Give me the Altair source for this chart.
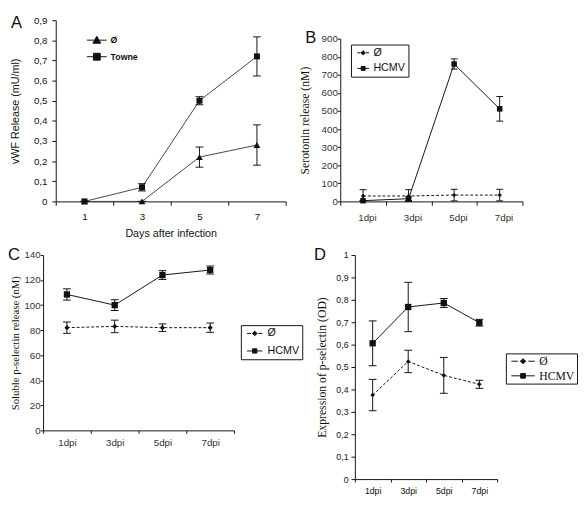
import altair as alt
import pandas as pd

# ---------------- data ----------------
A_DAYS = ["1", "3", "5", "7"]
A_NAMES = ["Ø", "Towne"]
A_MOCK = [0.0, 0.0, 0.22, 0.28]
A_MOCK_ERR = [0.0, 0.0, 0.05, 0.10]
A_TOWNE = [0.0, 0.07, 0.50, 0.72]
A_TOWNE_ERR = [0.0, 0.018, 0.02, 0.097]

DPI = ["1dpi", "3dpi", "5dpi", "7dpi"]
NAMES = ["Ø", "HCMV"]

B_MOCK = [30, 30, 35, 35]
B_MOCK_ERR = [35, 35, 32, 32]
B_HCMV = [4, 15, 760, 512]
B_HCMV_ERR = [0, 10, 28, 68]

C_MOCK = [82, 83, 82, 82]
C_MOCK_ERR = [4.5, 5, 3, 3.7]
C_HCMV = [108.5, 100, 124, 128]
C_HCMV_ERR = [4.5, 4.3, 3.5, 3.2]

D_MOCK = [0.375, 0.525, 0.463, 0.423]
D_MOCK_ERR = [0.07, 0.05, 0.08, 0.018]
D_HCMV = [0.606, 0.768, 0.786, 0.698]
D_HCMV_ERR = [0.10, 0.11, 0.02, 0.015]

A_TICKS = [0, 0.1, 0.2, 0.3, 0.4, 0.5, 0.6, 0.7, 0.8, 0.9]
B_TICKS = [0, 100, 200, 300, 400, 500, 600, 700, 800, 900]
C_TICKS = [0, 20, 40, 60, 80, 100, 120, 140]
D_TICKS = [0, 0.1, 0.2, 0.3, 0.4, 0.5, 0.6, 0.7, 0.8, 0.9, 1]

SANS = "Liberation Sans"
SERIF = "Liberation Serif"
INK = "#111111"
GREY_LABEL = "#333333"
COMMA = "replace(toString(round(datum.value*10)/10), '.', ',')"


def frame(cats, names, vals, errs):
    rows = []
    for name, v, e in zip(names, vals, errs):
        for c, vi, ei in zip(cats, v, e):
            rows.append({"x": c, "s": name, "v": vi,
                         "lo": max(vi - ei, 0), "hi": vi + ei})
    return pd.DataFrame(rows)


def axis_common(**kw):
    base = dict(domainColor=INK, tickColor=INK, labelColor=INK, titleColor=INK,
                grid=False, titleFontWeight="normal")
    base.update(kw)
    return alt.Axis(**base)


def legend_path(half, marker, dashed):
    """Legend glyph: a line of half-length `half` (symbol units) with a marker on it."""
    if dashed:
        h = half
        line = (f"M{-h},0H{-h + 0.55 * h:.2f}M{-h + 0.75 * h:.2f},0H{-0.9:.2f}"
                f"M0.9,0H{h - 0.75 * h:.2f}M{h - 0.55 * h:.2f},0H{h}")
    else:
        line = f"M{-half},0H{half}"
    return line + marker


TRI = "M0,-1.15L1.15,0.9H-1.15Z"
SQ = "M-1,-1H1V1H-1Z"
DIA = "M0,-1.1L1.1,0L0,1.1L-1.1,0Z"


def panel(df, cats, names, ydom, yaxis, xaxis, ytitle, xtitle, w, h,
          line_color, dashes, shapes, sizes, leg, letter, letter_xy, cap,
          xrange=None, yrange=None):
    xs = dict(type="band", domain=cats, paddingInner=0, paddingOuter=0)
    if xrange:
        xs["range"] = xrange
    xenc = alt.X("x:N", sort=cats, title=xtitle, scale=alt.Scale(**xs), axis=xaxis)

    ys = dict(domain=ydom, nice=False, zero=False)
    if yrange:
        ys["range"] = yrange

    def yenc(field):
        return alt.Y(f"{field}:Q", title=ytitle, scale=alt.Scale(**ys), axis=yaxis)

    base = alt.Chart(df).encode(x=xenc)
    layers = []
    for name, dash in zip(names, dashes):
        kw = dict(color=line_color, strokeWidth=1)
        if dash:
            kw["strokeDash"] = dash
        layers.append(base.transform_filter(alt.datum.s == name)
                      .mark_line(**kw).encode(y=yenc("v")))
    layers.append(base.mark_rule(color=INK, strokeWidth=1).encode(y=yenc("lo"), y2="hi:Q"))
    layers.append(base.mark_tick(color=INK, size=cap, thickness=1, opacity=1).encode(y=yenc("lo")))
    layers.append(base.mark_tick(color=INK, size=cap, thickness=1, opacity=1).encode(y=yenc("hi")))
    for name, shape, size in zip(names, shapes, sizes):
        layers.append(base.transform_filter(alt.datum.s == name)
                      .mark_point(shape=shape, size=size, filled=True, color=INK, opacity=1)
                      .encode(y=yenc("v")))

    # legend: glyph = line + marker, drawn through the shape scale
    r, half, gap = leg.pop("r"), leg.pop("half"), leg.pop("gap")
    paths = leg.pop("paths")
    msize = (2 * r) ** 2
    sym_off = (half - 1) * r
    lab_off = (half - 1) * r + gap - 1
    layers.append(
        alt.Chart(df).transform_filter("false")
        .mark_point(filled=True, fill=INK, stroke=INK, strokeWidth=1, opacity=1, size=msize)
        .encode(shape=alt.Shape("s:N", scale=alt.Scale(domain=names, range=paths),
                                legend=alt.Legend(title=None, symbolSize=msize,
                                                  symbolOffset=sym_off, labelOffset=lab_off,
                                                  symbolStrokeWidth=1, orient="none",
                                                  labelColor=INK, **leg)))
    )
    layers.append(
        alt.Chart(pd.DataFrame({"t": [letter]}))
        .mark_text(font=SANS, fontSize=17, align="left", baseline="middle", color=INK)
        .encode(text="t:N", x=alt.value(letter_xy[0]), y=alt.value(letter_xy[1]))
    )
    return alt.layer(*layers).properties(width=w, height=h)


# ---------------- panel A ----------------
A_SHIFT = 13
A_H = 186
dfA = frame(A_DAYS, A_NAMES, [A_MOCK, A_TOWNE], [A_MOCK_ERR, A_TOWNE_ERR])
A = panel(
    dfA, A_DAYS, A_NAMES, [0, 0.9],
    axis_common(values=A_TICKS, labelExpr=COMMA, labelFont=SANS, labelFontSize=10,
                titleFont=SANS, titleFontSize=11, tickSize=4, labelPadding=5, titlePadding=13,
                offset=-A_SHIFT),
    axis_common(labelAngle=0, tickBand="extent", labelFont=SANS, labelFontSize=10,
                titleFont=SANS, titleFontSize=11, tickSize=4, labelPadding=7, titlePadding=6),
    "vWF Release (mU/ml)", "Days after infection", A_SHIFT + 236, A_H,
    "#444444", [None, None], ["triangle-up", "square"], [48, 38],
    dict(r=3.5, half=2.9, gap=4,
         paths=[legend_path(2.9, TRI, False), legend_path(2.9, SQ, False)],
         legendX=A_SHIFT + 31, legendY=16, padding=0, labelFont=SANS, labelFontSize=9,
         labelFontWeight="bold", rowPadding=6),
    "A", (A_SHIFT - 46, 3), 8,
    xrange=[A_SHIFT, A_SHIFT + 236],
)

# ---------------- panel B ----------------
B_TOP = 19
dfB = frame(DPI, NAMES, [B_MOCK, B_HCMV], [B_MOCK_ERR, B_HCMV_ERR])
B = panel(
    dfB, DPI, NAMES, [0, 900],
    axis_common(values=B_TICKS, labelFont=SANS, labelFontSize=10, labelColor=GREY_LABEL,
                titleFont=SERIF, titleFontSize=12, tickSize=3, labelPadding=0, titlePadding=10),
    axis_common(labelAngle=0, tickBand="extent", labelFont=SANS, labelFontSize=10,
                labelColor=GREY_LABEL, tickSize=4, labelPadding=8, labelOffset=4),
    "Serotonin release (nM)", None, 187, A_H,
    INK, [[3, 2], None], ["diamond", "square"], [20, 32],
    dict(r=2.0, half=3.0, gap=2,
         paths=[legend_path(3.0, DIA, True), legend_path(3.0, SQ, False)],
         legendX=11, legendY=B_TOP + 6, padding=3, strokeColor=INK, fillColor="white",
         labelFont=SANS, labelFontSize=11, rowPadding=4),
    "B", (-36, B_TOP - 0.5), 7,
    yrange=[A_H, B_TOP],
)

# ---------------- panel C ----------------
dfC = frame(DPI, NAMES, [C_MOCK, C_HCMV], [C_MOCK_ERR, C_HCMV_ERR])
C = panel(
    dfC, DPI, NAMES, [0, 140],
    axis_common(values=C_TICKS, labelFont=SANS, labelFontSize=10, labelColor=GREY_LABEL,
                titleFont=SERIF, titleFontSize=11, tickSize=3, labelPadding=0, titlePadding=4),
    axis_common(labelAngle=0, tickBand="extent", labelFont=SANS, labelFontSize=10,
                labelColor=GREY_LABEL, tickSize=3, labelPadding=5),
    "Soluble p-selectin release (nM)", None, 196, 180,
    INK, [[3, 2], None], ["diamond", "square"], [28, 42],
    dict(r=2.2, half=3.6, gap=3,
         paths=[legend_path(3.6, DIA, True), legend_path(3.6, SQ, False)],
         legendX=203, legendY=72, padding=3, strokeColor=INK, fillColor="white",
         labelFont=SANS, labelFontSize=11, rowPadding=6),
    "C", (-36, 0), 8,
)

# ---------------- panel D ----------------
dfD = frame(DPI, NAMES, [D_MOCK, D_HCMV], [D_MOCK_ERR, D_HCMV_ERR])
D = panel(
    dfD, DPI, NAMES, [0, 1],
    axis_common(values=D_TICKS, labelExpr=COMMA, labelFont=SANS, labelFontSize=9,
                titleFont=SERIF, titleFontSize=12, tickSize=4, labelPadding=3, titlePadding=8),
    axis_common(labelAngle=0, tickBand="extent", labelFont=SANS, labelFontSize=9,
                tickSize=3, labelPadding=5),
    "Expression of p-selectin (OD)", None, 146, 230,
    INK, [[3, 2], None], ["diamond", "square"], [22, 42],
    dict(r=2.4, half=5.0, gap=2,
         paths=[legend_path(5.0, DIA, True), legend_path(5.0, SQ, False)],
         legendX=155, legendY=101, padding=2, strokeColor=INK, fillColor="white",
         labelFont=SERIF, labelFontSize=12, rowPadding=3),
    "D", (-42, 0), 8,
)

row1 = (alt.hconcat(A, B, spacing=12)
        .resolve_scale(shape="independent").resolve_legend(shape="independent"))
row2 = (alt.hconcat(C, D, spacing=11)
        .resolve_scale(shape="independent").resolve_legend(shape="independent"))
chart = (
    alt.vconcat(row1, row2, spacing=8)
    .resolve_scale(shape="independent").resolve_legend(shape="independent")
    .properties(padding=0, background="white")
    .configure_view(stroke=None)
)
chart.save("out.html", embed_options={"renderer": "svg", "actions": False})
